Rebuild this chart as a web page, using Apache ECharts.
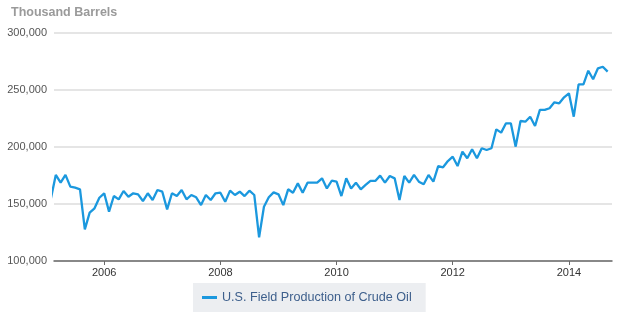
<!DOCTYPE html>
<html>
<head>
<meta charset="utf-8">
<script src="https://cdn.jsdelivr.net/npm/echarts@6/dist/echarts.min.js"></script>
<style>html,body{margin:0;padding:0;background:#fff}#c{width:620px;height:322px}</style>
</head>
<body>
<div id="c"></div>
<script>
// Data: monthly U.S. field production of crude oil (thousand barrels), Feb 2005 .. Sep 2014
const startYear = 2005, startMonth = 2;
const values = [
  155, 175.5, 168.7, 175.5, 165.2, 164.3, 162.9, 127.8, 142.4, 146.2, 155.5,
  159.4, 143.3, 157, 154.1, 161.4, 156.4, 159.4, 158.5, 152.6, 159.4, 153.5, 162.3,
  160.8, 145.3, 159.4, 157, 162.3, 154.1, 157.9, 155.9, 149.1, 157.9, 153.5, 159.4,
  159.9, 152, 161.7, 157.9, 160.8, 157, 161.7, 157.9, 120.8, 147.6, 155.9, 160.2,
  158.5, 149, 162.9, 159.9, 168.1, 159.9, 168.7, 168.7, 168.7, 172.5, 163.7, 170.4,
  169.6, 157, 172.5, 163.7, 168.7, 162.9, 166.7, 170.2, 170.2, 174.9, 168.7, 174.6,
  172.5, 153.5, 174.6, 168.7, 175.5, 169.6, 167.3, 175.5, 169.6, 183.3, 182.2, 187.7,
  191.5, 183.3, 195.9, 190.1, 198, 190.1, 198.9, 197.4, 198.9, 215.5, 212.6, 220.8,
  220.8, 200.3, 222.8, 222.2, 226.6, 218.4, 232.5, 232.5, 234, 239.2, 238.3, 243.6,
  247.1, 226.6, 255, 255, 266.9, 259.4, 269, 270.4, 266.1
];
const xTickLabels = ['2006', '2008', '2010', '2012', '2014'];
const yTicks = [100000, 150000, 200000, 250000, 300000];
const seriesName = 'U.S. Field Production of Crude Oil';
const yTitle = 'Thousand Barrels';

const font = 'Liberation Sans, Arial, Helvetica, sans-serif';
// x = months elapsed since January of startYear
const monthIndex = (year, month) => (year - startYear) * 12 + (month - 1);
const tickValues = xTickLabels.map(y => monthIndex(Number(y), 1));
const seriesData = values.map((v, i) => [monthIndex(startYear, startMonth) + i, v * 1000]);

const chart = echarts.init(document.getElementById('c'), null, {renderer: 'canvas'});
chart.setOption({
  backgroundColor: '#ffffff',
  animation: false,
  textStyle: {fontFamily: font},
  title: {
    text: yTitle, left: 11, top: 6, padding: 0,
    textStyle: {fontFamily: font, fontSize: 12.5, fontWeight: 'bold', color: '#9a9a9a'}
  },
  legend: {
    data: [seriesName], left: 193, top: 283,
    backgroundColor: '#eceef1',
    padding: [8, 14, 8, 9],
    itemWidth: 15, itemHeight: 3, itemGap: 10,
    icon: 'rect',
    textStyle: {fontFamily: font, fontSize: 12.6, color: '#3d5f8c'}
  },
  grid: {left: 54, right: 8, top: 33, bottom: 61, containLabel: false},
  xAxis: {
    type: 'value',
    min: 1.63, max: 116.9,
    axisLine: {show: true, onZero: false, lineStyle: {color: '#6a6a6a', width: 1.5}},
    axisTick: {show: true, customValues: tickValues, length: 4, lineStyle: {color: '#6a6a6a'}},
    axisLabel: {
      customValues: tickValues,
      formatter: (v) => xTickLabels[tickValues.indexOf(Math.round(v))] || '',
      color: '#333', fontSize: 11, fontFamily: font, margin: 6
    },
    splitLine: {show: false}
  },
  yAxis: {
    type: 'value', min: yTicks[0], max: yTicks[yTicks.length - 1], interval: 50000,
    axisLine: {show: false}, axisTick: {show: false},
    axisLabel: {
      formatter: (v) => v.toLocaleString('en-US'),
      color: '#555', fontSize: 11, fontFamily: font, margin: 7
    },
    splitLine: {show: true, lineStyle: {color: '#dddddd', width: 1.5}}
  },
  series: [{
    name: seriesName, type: 'line', data: seriesData,
    showSymbol: false, symbol: 'none', clip: true,
    lineStyle: {color: '#1b98de', width: 2.3},
    itemStyle: {color: '#1b98de'}
  }]
});
</script>
</body>
</html>
